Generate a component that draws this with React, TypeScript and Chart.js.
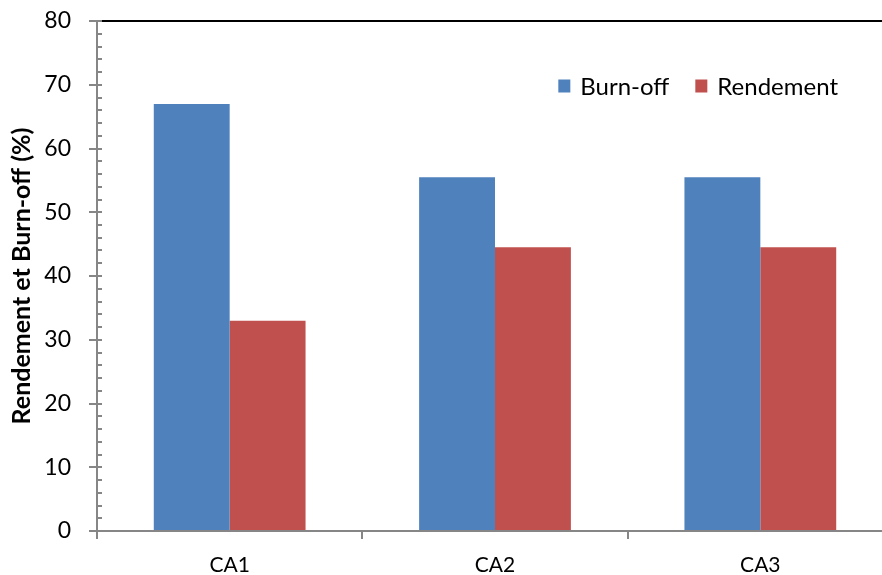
import React, { useEffect, useRef } from 'react';
import { Chart, registerables } from 'chart.js';

Chart.register(...registerables);

const categories = ['CA1', 'CA2', 'CA3'];
const burnOff = [67, 55.5, 55.5];
const rendement = [33, 44.5, 44.5];
const seriesLabels = ['Burn-off', 'Rendement'];
const seriesColors = ['#4F81BD', '#C0504D'];
const yMin = 0;
const yMax = 80;
const yStep = 10;
const yMinorStep = 2;
const yTitle = 'Rendement et Burn-off (%)';

const FONT = 'Lato, "Open Sans", sans-serif';
const AXIS = '#868686';

const decorPlugin = {
  id: 'decor',
  afterDraw(chart: any) {
    const { ctx, chartArea } = chart;
    const { left, right, top } = chartArea;
    const y = chart.scales.y;
    ctx.save();
    // top border
    ctx.strokeStyle = '#000000';
    ctx.lineWidth = 2;
    ctx.beginPath();
    ctx.moveTo(left, top);
    ctx.lineTo(right, top);
    ctx.stroke();
    // inner minor ticks
    ctx.strokeStyle = AXIS;
    ctx.lineWidth = 2;
    for (let v = yMin; v <= yMax; v += yMinorStep) {
      const py = Math.round(y.getPixelForValue(v));
      ctx.beginPath();
      ctx.moveTo(left, py);
      ctx.lineTo(left + 5, py);
      ctx.stroke();
    }
    // legend
    ctx.font = `24px ${FONT}`;
    ctx.textBaseline = 'middle';
    ctx.textAlign = 'left';
    const box = 13;
    const gapBoxText = 9;
    const gapItems = 26;
    const ds = chart.data.datasets;
    let total = 0;
    ds.forEach((d: any, i: number) => {
      total += box + gapBoxText + ctx.measureText(d.label).width;
      if (i < ds.length - 1) total += gapItems;
    });
    let x = right - 55 - total;
    const cy = top + 65;
    ds.forEach((d: any) => {
      ctx.fillStyle = d.backgroundColor;
      ctx.fillRect(x, cy - box / 2, box - 1, box);
      x += box + gapBoxText;
      ctx.fillStyle = '#000000';
      ctx.fillText(d.label, x, cy + 1);
      x += ctx.measureText(d.label).width + gapItems;
    });
    ctx.restore();
  },
};

export default function App() {
  const ref = useRef<HTMLCanvasElement | null>(null);
  useEffect(() => {
    if (!ref.current) return;
    const chart = new Chart(ref.current, {
      type: 'bar',
      data: {
        labels: categories,
        datasets: [
          { label: seriesLabels[0], data: burnOff, backgroundColor: seriesColors[0], borderWidth: 0 },
          { label: seriesLabels[1], data: rendement, backgroundColor: seriesColors[1], borderWidth: 0 },
        ],
      },
      options: {
        responsive: false,
        animation: false,
        events: [],
        layout: { padding: { top: 21, right: 7, left: 0, bottom: 0 } },
        datasets: { bar: { categoryPercentage: 0.572, barPercentage: 1 } },
        plugins: { legend: { display: false }, tooltip: { enabled: false } },
        scales: {
          x: {
            grid: { display: true, drawOnChartArea: false, drawTicks: true, tickLength: 8, color: AXIS, lineWidth: 2, offset: true },
            border: { display: true, color: AXIS, width: 2 },
            ticks: { color: '#000', font: { family: FONT, size: 21 }, padding: 14 },
            afterFit: (s: any) => { s.height = 44; s.paddingLeft = 0; s.paddingRight = 0; },
          },
          y: {
            min: yMin,
            max: yMax,
            grid: { display: true, drawOnChartArea: false, drawTicks: true, tickLength: 8, color: AXIS, lineWidth: 2 },
            border: { display: true, color: AXIS, width: 2 },
            ticks: { stepSize: yStep, color: '#000', font: { family: FONT, size: 23 }, padding: 18 },
            title: { display: true, text: yTitle, color: '#000', font: { family: FONT, size: 25, weight: 'bold' }, padding: { top: 7, bottom: 0 } },
            afterFit: (s: any) => { s.width = 97; s.paddingTop = 0; s.paddingBottom = 0; },
          },
        },
      },
      plugins: [decorPlugin],
    });
    return () => chart.destroy();
  }, []);
  return (
    <div style={{ position: 'fixed', left: 0, top: 0, width: 882, height: 575, overflow: 'hidden', background: '#fff' }}>
      <canvas ref={ref} width={900} height={575} style={{ display: 'block', width: 900, height: 575 }} />
    </div>
  );
}
